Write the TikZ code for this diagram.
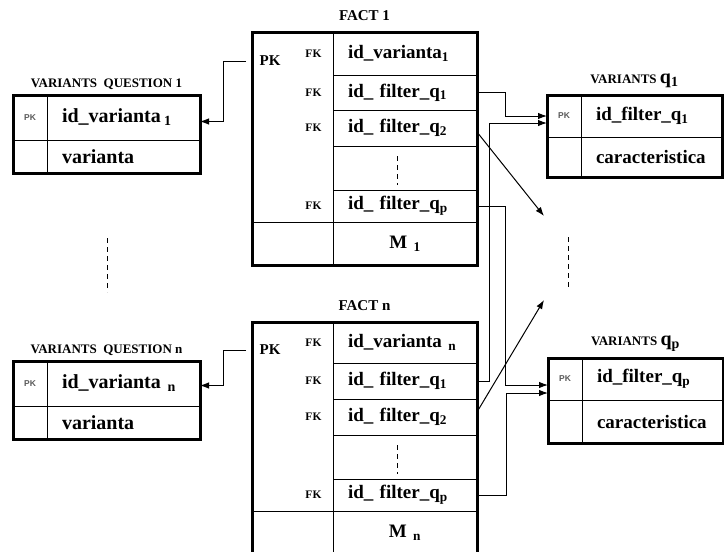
\documentclass[tikz,border=0pt]{standalone}
\usepackage{fontspec}
\setmainfont{Liberation Serif}
\setsansfont{Liberation Sans}
\usetikzlibrary{arrows.meta,positioning,fit}

\begin{document}
\begin{tikzpicture}[x=1pt, y=-1pt,
			cell/.style={draw, line width=0.9pt, outer sep=0pt, inner xsep=15pt, inner ysep=0pt, align=left, font=\bfseries\fontsize{19}{21}\selectfont},
			fcell/.style={cell, text width=114pt},
			vcell/.style={cell, text width=123pt, font=\bfseries\fontsize{20}{22}\selectfont},
			qcell/.style={cell, text width=111pt},
			side/.style={draw, line width=0.9pt, outer sep=0pt, inner sep=0pt, minimum width=81pt},
			keycell/.style={draw, line width=0.9pt, outer sep=0pt, inner sep=0pt, minimum width=34pt, text=black!65, font=\sffamily\bfseries\fontsize{8.5}{10}\selectfont},
			frame/.style={draw, line width=3pt, inner sep=0pt},
			title/.style={font=\bfseries\fontsize{13}{15}\selectfont},
			pk/.style={font=\bfseries\fontsize{15}{17}\selectfont},
			fk/.style={font=\bfseries\fontsize{11.5}{13}\selectfont},
			link/.style={line width=1pt, -{Latex[length=9pt,width=6.5pt]}},
			dots/.style={line width=0.9pt, dash pattern=on 5pt off 4pt}
		]
		\useasboundingbox (0,0) rectangle (724,552);

		% Fact 1
		\node[fcell, minimum height=43pt, anchor=north west] (f1v) at (333,32) {id\_varianta\textsubscript{1}};
		\node[fcell, minimum height=35pt, below=0pt of f1v] (f1a) {id\_ filter\_q\textsubscript{1}};
		\node[fcell, minimum height=36pt, below=0pt of f1a] (f1b) {id\_ filter\_q\textsubscript{2}};
		\node[fcell, minimum height=44pt, below=0pt of f1b] (f1d) {};
		\node[fcell, minimum height=32pt, below=0pt of f1d] (f1p) {id\_ filter\_q\textsubscript{p}};
		\node[fcell, minimum height=43pt, align=center, below=0pt of f1p] (f1m) {M \textsubscript{1}};
		\node[side, minimum height=190pt, anchor=north east] (f1k) at (f1v.north west) {};
		\node[side, minimum height=43pt, anchor=north east] (f1e) at (f1m.north west) {};
		\node[pk] (f1pk) at ([xshift=18pt,yshift=-29pt]f1k.north west) {PK};
		\node[fk, left=8pt of f1v] (f1fv) {FK};
		\node[fk, left=8pt of f1a] (f1fa) {FK};
		\node[fk, left=8pt of f1b] (f1fb) {FK};
		\node[fk, left=8pt of f1p] (f1fp) {FK};
		\draw[dots] ([xshift=-8pt,yshift=-10pt]f1d.north) -- ([xshift=-8pt,yshift=5pt]f1d.south);
		\node[frame, fit=(f1k)(f1v)(f1m)(f1e)] (fact1) {};
		\node[title, font=\bfseries\fontsize{15}{17}\selectfont, above=6pt of fact1] (tf1) {FACT 1};

		% Fact n
		\node[fcell, minimum height=41pt, anchor=north west] (fnv) at (333,322) {id\_varianta \textsubscript{n}};
		\node[fcell, minimum height=36pt, below=0pt of fnv] (fna) {id\_ filter\_q\textsubscript{1}};
		\node[fcell, minimum height=36pt, below=0pt of fna] (fnb) {id\_ filter\_q\textsubscript{2}};
		\node[fcell, minimum height=44pt, below=0pt of fnb] (fnd) {};
		\node[fcell, minimum height=32pt, below=0pt of fnd] (fnp) {id\_ filter\_q\textsubscript{p}};
		\node[fcell, minimum height=43pt, align=center, below=0pt of fnp] (fnm) {M \textsubscript{n}};
		\node[side, minimum height=189pt, anchor=north east] (fnk) at (fnv.north west) {};
		\node[side, minimum height=43pt, anchor=north east] (fne) at (fnm.north west) {};
		\node[pk] (fnpk) at ([xshift=18pt,yshift=-28pt]fnk.north west) {PK};
		\node[fk, left=8pt of fnv] (fnfv) {FK};
		\node[fk, left=8pt of fna] (fnfa) {FK};
		\node[fk, left=8pt of fnb] (fnfb) {FK};
		\node[fk, left=8pt of fnp] (fnfp) {FK};
		\draw[dots] ([xshift=-8pt,yshift=-10pt]fnd.north) -- ([xshift=-8pt,yshift=5pt]fnd.south);
		\node[frame, fit=(fnk)(fnv)(fnm)(fne)] (factn) {};
		\node[title, font=\bfseries\fontsize{15}{17}\selectfont, above=6pt of factn] (tfn) {FACT n};

		% Variants question 1 and n
		\node[vcell, minimum height=45pt, anchor=north west] (q1v) at (47,95) {id\_varianta\,\textsubscript{1}};
		\node[vcell, minimum height=33pt, below=0pt of q1v] (q1t) {varianta};
		\node[keycell, minimum height=45pt, anchor=north east] (q1k) at (q1v.north west) {PK};
		\node[keycell, minimum height=33pt, anchor=north east] (q1e) at (q1t.north west) {};
		\node[frame, fit=(q1k)(q1v)(q1t)] (varq1) {};
		\node[title, above=0pt of varq1] (tq1) {VARIANTS\ \ QUESTION 1};

		\node[vcell, minimum height=45pt, anchor=north west] (qnv) at (47,361) {id\_varianta \textsubscript{n}};
		\node[vcell, minimum height=33pt, below=0pt of qnv] (qnt) {varianta};
		\node[keycell, minimum height=45pt, anchor=north east] (qnk) at (qnv.north west) {PK};
		\node[keycell, minimum height=33pt, anchor=north east] (qne) at (qnt.north west) {};
		\node[frame, fit=(qnk)(qnv)(qnt)] (varqn) {};
		\node[title, above=0pt of varqn] (tqn) {VARIANTS\ \ QUESTION n};

		\draw[dots] (107,238) -- (107,292);

		% Variants q1 and qp
		\node[qcell, minimum height=42pt, anchor=north west] (v1a) at (581,95) {id\_filter\_q\textsubscript{1}};
		\node[qcell, minimum height=40pt, below=0pt of v1a] (v1c) {caracteristica};
		\node[keycell, minimum height=42pt, anchor=north east] (v1k) at (v1a.north west) {PK};
		\node[keycell, minimum height=40pt, anchor=north east] (v1e) at (v1c.north west) {};
		\node[frame, fit=(v1k)(v1a)(v1c)] (varv1) {};
		\node[title, above=2pt of varv1] (tv1) {VARIANTS \fontsize{20}{22}\selectfont q\textsubscript{1}};

		\node[qcell, minimum height=42pt, anchor=north west] (vpa) at (582,358) {id\_filter\_q\textsubscript{p}};
		\node[qcell, minimum height=43pt, below=0pt of vpa] (vpc) {caracteristica};
		\node[keycell, minimum height=42pt, anchor=north east] (vpk) at (vpa.north west) {PK};
		\node[keycell, minimum height=43pt, anchor=north east] (vpe) at (vpc.north west) {};
		\node[frame, fit=(vpk)(vpa)(vpc)] (varvp) {};
		\node[title, above=1pt of varvp] (tvp) {VARIANTS \fontsize{20}{22}\selectfont q\textsubscript{p}};

		\draw[dots] (568,237) -- (568,287);
		\coordinate (gapup) at (544,216);
		\coordinate (gapdn) at (544,300);

		% links
		\draw[link, shorten <=6pt] (f1k.west |- f1pk) -- ++(-29pt,0) |- ([yshift=-4pt]q1v.east);
		\draw[link, shorten <=6pt] (fnk.west |- fnpk) -- ++(-29pt,0) |- ([yshift=-2pt]qnv.east);
		\draw[link] (f1a.east) -- ++(28pt,0) |- (v1k.west);
		\draw[link] (fna.east) -- ++(12pt,0) |- ([yshift=-7pt]v1k.west);
		\draw[link] ([yshift=-4pt]f1b.east) -- (gapup);
		\draw[link] ([yshift=5pt]fnb.east) -- (gapdn);
		\draw[link] (f1p.east) -- ++(28pt,0) |- ([yshift=-6pt]vpk.west);
		\draw[link] (fnp.east) -- ++(29pt,0) |- ([yshift=-14pt]vpk.west);

	\end{tikzpicture}
\end{document}
